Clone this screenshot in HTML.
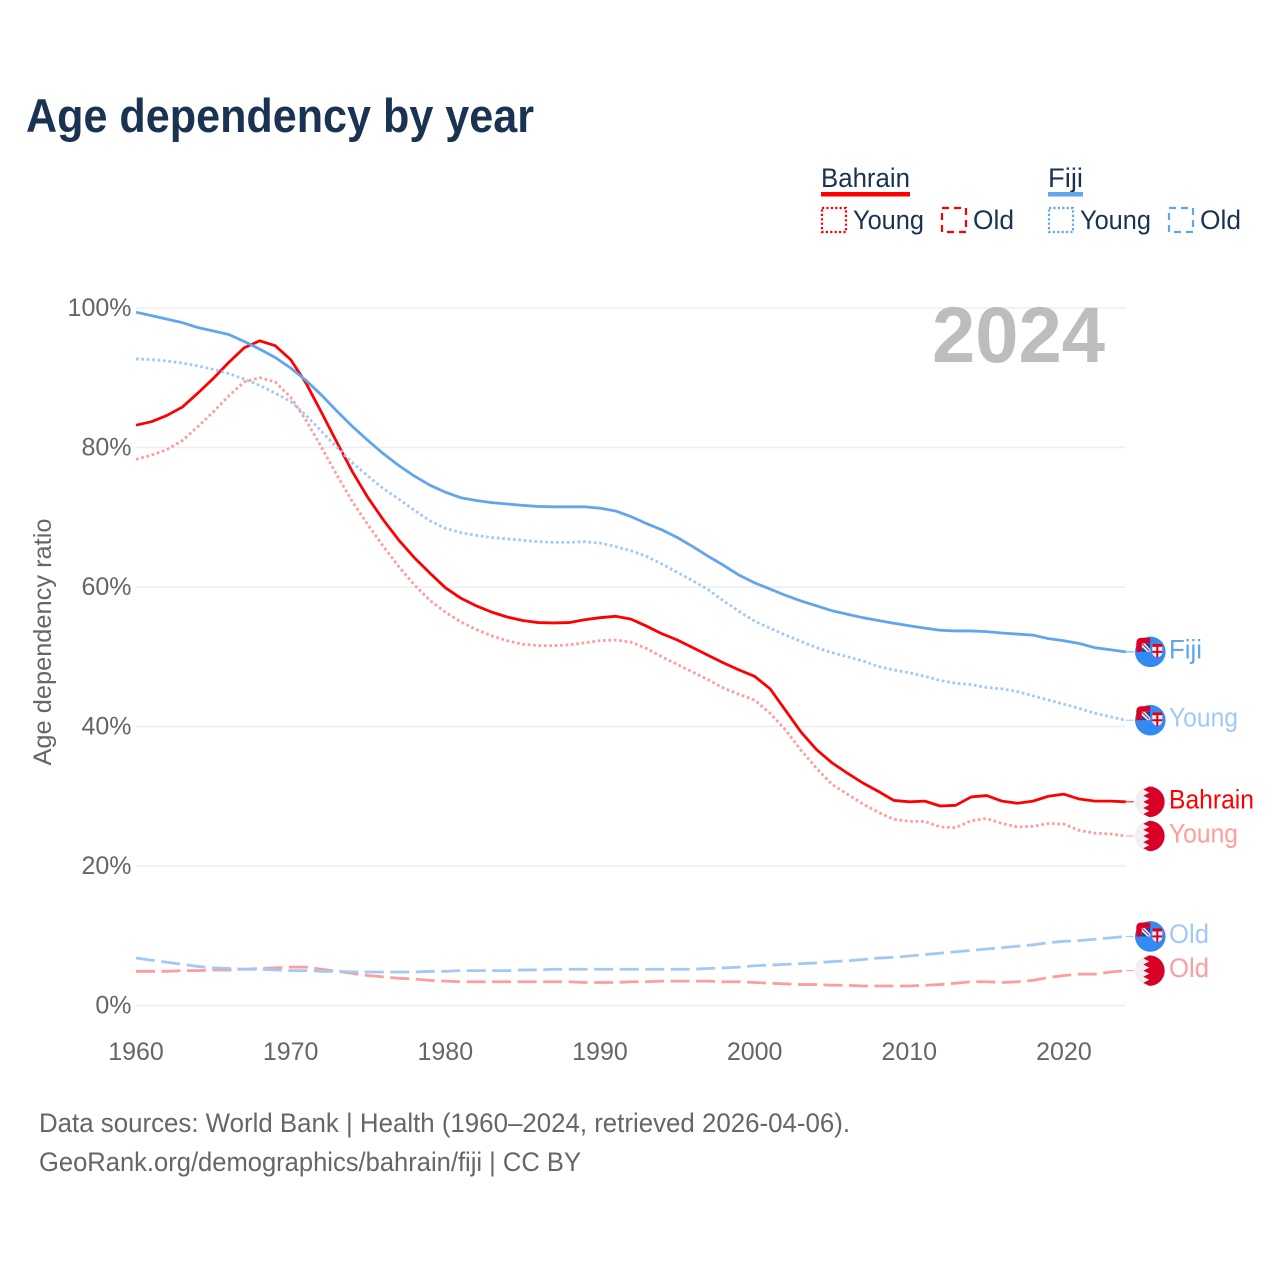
<!DOCTYPE html>
<html lang="en">
<head>
<meta charset="utf-8">
<title>Age dependency by year</title>
<style>
html,body{margin:0;padding:0;background:#fff;}
svg{display:block;font-family:"Liberation Sans",sans-serif;}
</style>
</head>
<body>
<svg id="chart" xmlns="http://www.w3.org/2000/svg" width="1280" height="1280" viewBox="0 0 1280 1280">
  <rect x="0" y="0" width="1280" height="1280" fill="#fff"/>
  <text x="26" y="132" font-size="47" font-weight="700" fill="#1a3352" textLength="508" lengthAdjust="spacingAndGlyphs">Age dependency by year</text>

  <g font-size="27" fill="#1a3352">
    <text x="821" y="187" textLength="89" lengthAdjust="spacingAndGlyphs">Bahrain</text>
    <rect x="821" y="192" width="89" height="4.5" fill="#ff0000"/>
    <rect x="822" y="208" width="24" height="24" fill="none" stroke="#ff0000" stroke-width="2.2" stroke-dasharray="2.2 2.2"/>
    <text x="853" y="229" textLength="71" lengthAdjust="spacingAndGlyphs">Young</text>
    <rect x="942" y="208" width="24" height="24" fill="none" stroke="#ff0000" stroke-width="2.2" stroke-dasharray="7 5"/>
    <text x="973" y="229" textLength="41" lengthAdjust="spacingAndGlyphs">Old</text>
    <text x="1048" y="187" textLength="35" lengthAdjust="spacingAndGlyphs">Fiji</text>
    <rect x="1048" y="192" width="35" height="4.5" fill="#60a5ee"/>
    <rect x="1049" y="208" width="24" height="24" fill="none" stroke="#60a5ee" stroke-width="2.2" stroke-dasharray="2.2 2.2"/>
    <text x="1080" y="229" textLength="71" lengthAdjust="spacingAndGlyphs">Young</text>
    <rect x="1169" y="208" width="24" height="24" fill="none" stroke="#60a5ee" stroke-width="2.2" stroke-dasharray="7 5"/>
    <text x="1200" y="229" textLength="41" lengthAdjust="spacingAndGlyphs">Old</text>
  </g>

  <g id="grid"></g>
  <g id="yticks"></g>
  <g id="xticks"></g>

  <text x="932" y="362" font-size="79" font-weight="700" fill="#bdbdbd" textLength="173" lengthAdjust="spacingAndGlyphs">2024</text>

  <text transform="translate(51,642) rotate(-90)" text-anchor="middle" font-size="25" fill="#666" textLength="247" lengthAdjust="spacingAndGlyphs">Age dependency ratio</text>

  <g id="series"></g>
  <g id="ends"></g>

  <text x="39" y="1132" font-size="26.5" fill="#666" textLength="811" lengthAdjust="spacingAndGlyphs">Data sources: World Bank | Health (1960–2024, retrieved 2026-04-06).</text>
  <text x="39" y="1171" font-size="26.5" fill="#666" textLength="542" lengthAdjust="spacingAndGlyphs">GeoRank.org/demographics/bahrain/fiji | CC BY</text>
</svg>

<script>
const years = [1960,1961,1962,1963,1964,1965,1966,1967,1968,1969,
  1970,1971,1972,1973,1974,1975,1976,1977,1978,1979,
  1980,1981,1982,1983,1984,1985,1986,1987,1988,1989,
  1990,1991,1992,1993,1994,1995,1996,1997,1998,1999,
  2000,2001,2002,2003,2004,2005,2006,2007,2008,2009,
  2010,2011,2012,2013,2014,2015,2016,2017,2018,2019,
  2020,2021,2022,2023,2024];
const bahrainTotal = [83.2,83.7,84.6,85.8,87.8,89.9,92.2,94.3,95.3,94.6,
  92.6,89.2,85,80.7,76.5,72.8,69.6,66.7,64.2,62,
  59.9,58.4,57.3,56.4,55.7,55.2,54.9,54.85,54.9,55.3,
  55.6,55.8,55.4,54.4,53.3,52.4,51.3,50.2,49.1,48.1,
  47.2,45.4,42.3,39.2,36.7,34.8,33.3,31.9,30.7,29.4,
  29.2,29.3,28.6,28.7,29.9,30.1,29.3,29,29.3,30,
  30.3,29.6,29.3,29.3,29.2];
const bahrainYoung = [78.3,78.9,79.7,81,83,85.1,87.4,89.4,90,89.4,
  87.2,83.9,80,76,72.2,68.9,65.8,62.9,60.3,58.1,
  56.4,55,53.9,53,52.3,51.8,51.6,51.6,51.7,52,
  52.3,52.4,52.1,51.2,50,48.9,47.8,46.7,45.5,44.6,
  43.8,41.9,39.5,36.6,34,31.7,30.3,28.9,27.7,26.7,
  26.4,26.4,25.6,25.5,26.5,26.8,26.1,25.6,25.7,26.1,
  26,25.1,24.7,24.6,24.3];
const bahrainOld = [4.9,4.9,4.9,5,5,5.1,5.1,5.2,5.3,5.4,
  5.5,5.5,5.2,4.9,4.6,4.3,4.1,3.9,3.8,3.6,
  3.5,3.4,3.4,3.4,3.4,3.4,3.4,3.4,3.4,3.3,
  3.3,3.3,3.4,3.4,3.5,3.5,3.5,3.5,3.4,3.4,
  3.3,3.2,3.1,3,3,2.9,2.9,2.8,2.8,2.8,
  2.8,2.9,3,3.2,3.4,3.4,3.3,3.4,3.6,4,
  4.3,4.5,4.5,4.8,5];
const fijiTotal = [99.4,98.9,98.4,97.9,97.2,96.7,96.2,95.2,94.1,92.9,
  91.4,89.6,87.5,85.2,83,81,79.1,77.4,75.9,74.6,
  73.6,72.8,72.4,72.1,71.9,71.7,71.55,71.5,71.5,71.5,
  71.3,70.9,70.1,69.1,68.2,67.1,65.8,64.4,63.1,61.7,
  60.6,59.7,58.8,58,57.3,56.6,56.1,55.6,55.2,54.8,
  54.45,54.1,53.8,53.7,53.7,53.6,53.4,53.25,53.1,52.6,
  52.3,51.9,51.3,51,50.7];
const fijiYoung = [92.7,92.6,92.4,92.1,91.7,91.2,90.6,89.8,88.9,87.8,
  86.6,84.6,82.3,80,77.8,75.9,74.1,72.6,71,69.5,
  68.4,67.8,67.4,67.1,66.9,66.7,66.5,66.4,66.4,66.5,
  66.3,65.8,65.2,64.4,63.3,62.1,60.9,59.6,58,56.5,
  55.1,54.1,53.1,52.2,51.3,50.6,50,49.4,48.6,48.1,
  47.7,47.2,46.6,46.2,46,45.6,45.4,45,44.4,43.8,
  43.2,42.6,41.9,41.4,40.9];
const fijiOld = [6.8,6.5,6.2,5.9,5.6,5.4,5.3,5.2,5.2,5.1,
  5,5,4.9,4.9,4.8,4.8,4.8,4.8,4.8,4.9,
  4.9,5,5,5,5,5.1,5.1,5.2,5.2,5.2,
  5.2,5.2,5.2,5.2,5.2,5.2,5.2,5.3,5.4,5.5,
  5.7,5.8,5.9,6,6.1,6.3,6.4,6.6,6.8,6.9,
  7.1,7.3,7.5,7.7,7.9,8.1,8.3,8.5,8.7,9,
  9.2,9.3,9.5,9.7,9.9];
const xTickValues = [1960,1970,1980,1990,2000,2010,2020];
const yTickValues = [0,20,40,60,80,100];
const yTickLabels = ['0%','20%','40%','60%','80%','100%'];

const NS = 'http://www.w3.org/2000/svg';
const xScale = function (year) { return 136 + (year - 1960) * (1125.8 - 136) / 64; };
const yScale = function (pct) { return 1005.5 - pct * 6.975; };
const make = function (tag, parent) {
  const el = document.createElementNS(NS, tag);
  parent.appendChild(el);
  return el;
};

const gridGroup = document.getElementById('grid');
const yGroup = document.getElementById('yticks');
yTickValues.forEach(function (v, i) {
  const line = make('line', gridGroup);
  
  
  line.setAttribute('x1', xScale(1960));
  line.setAttribute('x2', xScale(2024));
  line.setAttribute('y1', yScale(v));
  line.setAttribute('y2', yScale(v));
  line.setAttribute('stroke', '#eeeeee');
  line.setAttribute('stroke-width', '1.5');
  const label = make('text', yGroup);
  
  
  label.setAttribute('x', 131.5);
  label.setAttribute('y', yScale(v) + 8);
  label.setAttribute('text-anchor', 'end');
  label.setAttribute('font-size', '25');
  label.setAttribute('fill', '#666');
  label.textContent = yTickLabels[i];
});

const xGroup = document.getElementById('xticks');
xTickValues.forEach(function (v) {
  const label = make('text', xGroup);
  
  
  label.setAttribute('x', xScale(v));
  label.setAttribute('y', 1060);
  label.setAttribute('text-anchor', 'middle');
  label.setAttribute('font-size', '25');
  label.setAttribute('fill', '#666');
  label.textContent = String(v);
});

const seriesList = [
  {id: 'bahrain-old', values: bahrainOld, color: '#ff9c9c', dash: '19 6.5', flag: 'bahrain', label: 'Old', w: 40},
  {id: 'bahrain-young', values: bahrainYoung, color: '#ff9c9c', dash: '2.7 2.7', flag: 'bahrain', label: 'Young', w: 69},
  {id: 'bahrain-total', values: bahrainTotal, color: '#ff0000', dash: null, flag: 'bahrain', label: 'Bahrain', w: 85},
  {id: 'fiji-old', values: fijiOld, color: '#a2c9f4', dash: '19 6.5', flag: 'fiji', label: 'Old', w: 40},
  {id: 'fiji-young', values: fijiYoung, color: '#a2c9f4', dash: '2.7 2.7', flag: 'fiji', label: 'Young', w: 69},
  {id: 'fiji-total', values: fijiTotal, color: '#60a5ee', dash: null, flag: 'fiji', label: 'Fiji', w: 33}
];

function drawBahrainFlag(g, cx, cy) {
  const r = 15.3;
  const base = make('circle', g);
  base.setAttribute('cx', cx);
  base.setAttribute('cy', cy);
  base.setAttribute('r', r);
  base.setAttribute('fill', '#f0f0f0');
  let d = 'M' + (cx - 1) + ' ' + (cy - r) + ' A' + r + ' ' + r + ' 0 1 1 ' + (cx - 1) + ' ' + (cy + r);
  const teeth = 5;
  const step = (2 * r) / (teeth * 2);
  for (let i = 1; i <= teeth * 2; i++) {
    const px = (i % 2 === 1) ? cx - 7 : cx - 1;
    d += ' L' + px + ' ' + (cy + r - i * step);
  }
  const red = make('path', g);
  red.setAttribute('d', d + ' Z');
  red.setAttribute('fill', '#d80027');
}

function drawFijiFlag(g, cx, cy) {
  const r = 15.3;
  const base = make('circle', g);
  base.setAttribute('cx', cx);
  base.setAttribute('cy', cy);
  base.setAttribute('r', r);
  base.setAttribute('fill', '#338af3');
  const canton = make('path', g);
  canton.setAttribute('d', 'M' + cx + ' ' + cy + ' H' + (cx - 14) + ' V' + (cy - 9) + ' Q' + (cx - 14) + ' ' + (cy - 14) + ' ' + (cx - 9) + ' ' + (cy - 14) + ' H' + cx + ' Z');
  canton.setAttribute('fill', '#d80027');
  const inner = make('rect', g);
  inner.setAttribute('x', cx - 8.5);
  inner.setAttribute('y', cy - 8.5);
  inner.setAttribute('width', 8.5);
  inner.setAttribute('height', 8.5);
  inner.setAttribute('fill', '#f0f0f0');
  const blue = make('path', g);
  blue.setAttribute('d', 'M' + (cx - 8.5) + ' ' + (cy - 5) + ' L' + (cx - 3) + ' ' + cy + ' H' + (cx - 8.5) + ' Z M' + (cx - 5.5) + ' ' + (cy - 8.5) + ' H' + cx + ' V' + (cy - 2.5) + ' Z');
  blue.setAttribute('fill', '#0052b4');
  const slash = make('line', g);
  slash.setAttribute('x1', cx - 8);
  slash.setAttribute('y1', cy - 8);
  slash.setAttribute('x2', cx - 1);
  slash.setAttribute('y2', cy - 1);
  slash.setAttribute('stroke', '#d80027');
  slash.setAttribute('stroke-width', '1');
  const shield = make('path', g);
  shield.setAttribute('d', 'M' + (cx + 2) + ' ' + (cy - 8) + ' h10 v9 q0 3 -5 5 q-5 -2 -5 -5 Z');
  shield.setAttribute('fill', '#f0f0f0');
  const band = make('rect', g);
  band.setAttribute('x', cx + 2);
  band.setAttribute('y', cy - 8);
  band.setAttribute('width', 10);
  band.setAttribute('height', 3);
  band.setAttribute('fill', '#d80027');
  const sv = make('rect', g);
  sv.setAttribute('x', cx + 6);
  sv.setAttribute('y', cy - 5);
  sv.setAttribute('width', 2);
  sv.setAttribute('height', 11);
  sv.setAttribute('fill', '#d80027');
  const sh = make('rect', g);
  sh.setAttribute('x', cx + 2);
  sh.setAttribute('y', cy - 1);
  sh.setAttribute('width', 10);
  sh.setAttribute('height', 2);
  sh.setAttribute('fill', '#d80027');
}

const seriesGroup = document.getElementById('series');
const endsGroup = document.getElementById('ends');
seriesList.forEach(function (s) {
  const pts = s.values.map(function (v, i) { return xScale(years[i]).toFixed(2) + ',' + yScale(v).toFixed(2); });
  const line = make('polyline', seriesGroup);
  
  
  line.setAttribute('points', pts.join(' '));
  line.setAttribute('fill', 'none');
  line.setAttribute('stroke', s.color);
  line.setAttribute('stroke-width', '2.8');
  line.setAttribute('stroke-linejoin', 'round');
  if (s.dash) { line.setAttribute('stroke-dasharray', s.dash); }
  const lastVal = s.values[s.values.length - 1];
  const lastX = xScale(years[years.length - 1]);
  const lastY = yScale(lastVal);
  const stub = make('line', endsGroup);
  
  
  stub.setAttribute('x1', lastX);
  stub.setAttribute('x2', lastX + 8);
  stub.setAttribute('y1', lastY);
  stub.setAttribute('y2', lastY);
  stub.setAttribute('stroke', s.color);
  stub.setAttribute('stroke-width', '1');
  const flag = make('g', endsGroup);
  
  
  if (s.flag === 'bahrain') { drawBahrainFlag(flag, 1150.3, lastY); } else { drawFijiFlag(flag, 1150.3, lastY); }
  const label = make('text', endsGroup);
  
  
  label.setAttribute('x', 1169);
  label.setAttribute('y', lastY + 6.5);
  label.setAttribute('font-size', '26.5');
  label.setAttribute('fill', s.color);
  label.setAttribute('textLength', s.w);
  label.setAttribute('lengthAdjust', 'spacingAndGlyphs');
  label.textContent = s.label;
});
</script>
</body>
</html>
